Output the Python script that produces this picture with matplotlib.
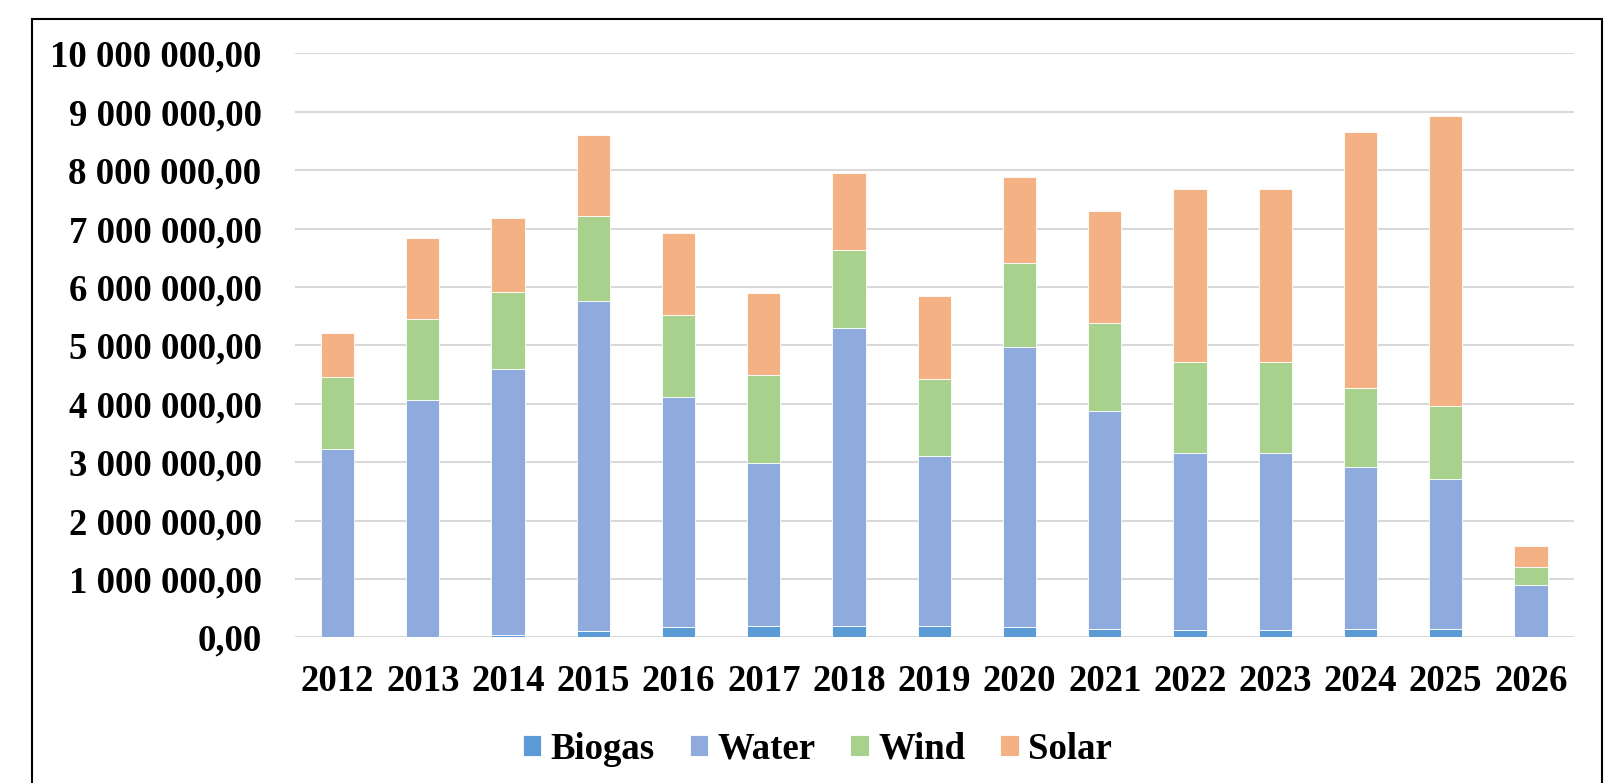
import matplotlib
matplotlib.use("Agg")
import matplotlib.pyplot as plt
from matplotlib.patches import Rectangle
from matplotlib.ticker import FuncFormatter
import numpy as np

years = ["2012", "2013", "2014", "2015", "2016", "2017", "2018", "2019",
         "2020", "2021", "2022", "2023", "2024", "2025", "2026"]
# segment values (millions)
biogas = [0.01, 0.01, 0.04, 0.10, 0.18, 0.19, 0.20, 0.20, 0.18, 0.15, 0.13, 0.13, 0.15, 0.15, 0.00]
water = [3.22, 4.05, 4.55, 5.66, 3.93, 2.80, 5.09, 2.91, 4.79, 3.73, 3.02, 3.02, 2.77, 2.56, 0.90]
wind = [1.22, 1.39, 1.33, 1.46, 1.41, 1.51, 1.34, 1.32, 1.44, 1.50, 1.56, 1.56, 1.35, 1.26, 0.31]
solar = [0.77, 1.39, 1.27, 1.39, 1.40, 1.40, 1.33, 1.42, 1.48, 1.93, 2.97, 2.97, 4.39, 4.96, 0.35]
series_names = ["Biogas", "Water", "Wind", "Solar"]
colors = ["#5B9BD5", "#8FAADC", "#A9D18E", "#F4B183"]
yticks = [0, 1e6, 2e6, 3e6, 4e6, 5e6, 6e6, 7e6, 8e6, 9e6, 10e6]

plt.rcParams['font.family'] = ['Liberation Serif', 'DejaVu Serif']
plt.rcParams['font.weight'] = 'bold'

fig = plt.figure(figsize=(16.09, 7.83), dpi=100)
ax = fig.add_axes([0.1833, 0.1861, 0.7947, 0.7456])

x = np.arange(len(years))
data = [np.array(s) * 1e6 for s in (biogas, water, wind, solar)]
bottom = np.zeros(len(years))
for name, vals, c in zip(series_names, data, colors):
    ax.bar(x, vals, width=0.39, bottom=bottom, color=c, label=name,
           edgecolor="white", linewidth=0.6, zorder=3)
    bottom = bottom + vals

ax.set_xlim(-0.5, len(years) - 0.5)
ax.set_ylim(0, 10e6)
ax.set_yticks(yticks)

def fmt(v, pos):
    s = f"{int(round(v)):,}".replace(",", " ")
    return s + ",00"

ax.yaxis.set_major_formatter(FuncFormatter(fmt))
ax.set_xticks(x)
ax.set_xticklabels(years)
ax.tick_params(axis='y', length=0, pad=24, labelsize=26.5)
ax.tick_params(axis='x', length=0, pad=19, labelsize=26.5)
for lab in ax.get_xticklabels() + ax.get_yticklabels():
    lab.set_fontweight('bold')

ax.grid(axis='y', color="#D9D9D9", linewidth=1.5, zorder=0)
ax.set_axisbelow(True)
for sp in ax.spines.values():
    sp.set_visible(False)

leg = fig.legend(loc="center", bbox_to_anchor=(0.508, 0.043), ncol=4,
                 frameon=False, prop={'size': 26.5, 'weight': 'bold'},
                 handlelength=0.5, handleheight=0.5, handletextpad=0.25,
                 columnspacing=0.95)

fig.patches.append(Rectangle((32 / 1609, -0.05), (1602 - 32) / 1609, 1.05 - 19 / 783,
                             transform=fig.transFigure, fill=False,
                             edgecolor="black", linewidth=1.5))

fig.savefig("out.png", dpi=100)
